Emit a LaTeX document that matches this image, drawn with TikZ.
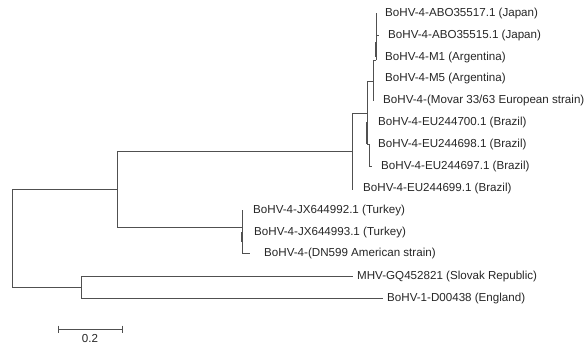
\documentclass[tikz,border=0pt]{standalone}
\usepackage{fontspec}
\setmainfont{Liberation Sans}
\definecolor{branch}{HTML}{505050}
\definecolor{taxon}{HTML}{262626}

\begin{document}
\begin{tikzpicture}[x=1pt, y=-1pt,
        br/.style={draw=branch, line width=0.85pt},
        brthick/.style={draw=branch, line width=1.7pt},
        taxon/.style={anchor=west, inner sep=0pt, text=taxon,
                      font=\fontsize{11.6}{13}\selectfont}]
        \useasboundingbox (0,0) rectangle (587,346);
        % inner nodes of the tree
        \coordinate (root) at (12,238);
        \coordinate (nA)   at (117,189);
        \coordinate (nB)   at (81,287);
        \coordinate (nC)   at (352,151);
        \coordinate (nT)   at (242,227);
        \coordinate (nD)   at (367,113);
        \coordinate (nE)   at (373.5,81);
        \coordinate (nG)   at (376,60);
        \coordinate (nF)   at (367,144);
        % branch tips
        \coordinate (jp1t) at (376,13);
        \coordinate (jp2t) at (379,35);
        \coordinate (ar1t) at (376,57);
        \coordinate (ar2t) at (373.5,78);
        \coordinate (mvt)  at (373.5,101);
        \coordinate (br1t) at (367,122);
        \coordinate (br3t) at (372,166);
        \coordinate (br4t) at (352,190);
        \coordinate (tr1t) at (242,210);
        \coordinate (tr2t) at (242,232);
        \coordinate (dnt)  at (250,253);
        \coordinate (mhvt) at (353,276);
        \coordinate (bh1t) at (383,298);
        % taxa
        \node[taxon] (jp1) at (385,13)  {BoHV-4-ABO35517.1 (Japan)};
        \node[taxon] (jp2) at (388,35)  {BoHV-4-ABO35515.1 (Japan)};
        \node[taxon] (ar1) at (385,57)  {BoHV-4-M1 (Argentina)};
        \node[taxon] (ar2) at (385,78)  {BoHV-4-M5 (Argentina)};
        \node[taxon] (mv)  at (383,100) {BoHV-4-(Movar 33/63 European strain)};
        \node[taxon] (br1) at (378,122) {BoHV-4-EU244700.1 (Brazil)};
        \node[taxon] (br2) at (378,144) {BoHV-4-EU244698.1 (Brazil)};
        \node[taxon] (br3) at (381,166) {BoHV-4-EU244697.1 (Brazil)};
        \node[taxon] (br4) at (363,188) {BoHV-4-EU244699.1 (Brazil)};
        \node[taxon] (tr1) at (253,210) {BoHV-4-JX644992.1 (Turkey)};
        \node[taxon] (tr2) at (254,232) {BoHV-4-JX644993.1 (Turkey)};
        \node[taxon] (dn)  at (264,253) {BoHV-4-(DN599 American strain)};
        \node[taxon] (mhv) at (357,276) {MHV-GQ452821 (Slovak Republic)};
        \node[taxon] (bh1) at (387,298) {BoHV-1-D00438 (England)};
        % branches
        \draw[br] (root) |- (nA);                 %
        \draw[br] (root) |- (nB);                 %
        \draw[br] (nB) |- (mhvt);                 % MHV
        \draw[br] (nB) |- (bh1t);                 % BoHV-1
        \draw[br] (nA) |- (nC);                   %
        \draw[br] (nA) |- (nT);                   % Turkey / DN599
        \draw[br] (nT) |- (tr1t);                 %
        \draw[br] (nT) |- (dnt);                  %
        \draw[brthick] (tr2t) -- ++(0,10);        %
        \draw[br] (nC) |- (nD);                   %
        \draw[br] (nC) -- (br4t);                 % EU244699
        \draw[br] (nD) |- (nE);                   %
        \draw[br] (nD) -- (nF);                   %
        \draw[brthick] (br1t) -- (nF);            % EU244700 / EU244698
        \draw[br] (nF) -- ++(2,0) |- (br3t);      % EU244697
        \draw[br] (nE) |- (nG);                   %
        \draw[br] (nE) -- (mvt);                  % Movar
        \draw[br] (nG) -- (jp1t);                 %
        \draw[br] (nG) |- (jp2t);                 %
        \draw[brthick] (ar1t) -- ++(0,-15);       % M1
        % scale bar
        \coordinate (sb1) at (58,329);
        \coordinate (sb2) at (122,329);
        \draw[br] (sb1) -- (sb2);                 %
        \draw[br] (sb1) ++(0,-3.5) -- ++(0,7);    %
        \draw[br] (sb2) ++(0,-3.5) -- ++(0,7);    %
        \node[taxon, anchor=center] (sbl) at (90,339) {0.2};
\end{tikzpicture}
\end{document}
